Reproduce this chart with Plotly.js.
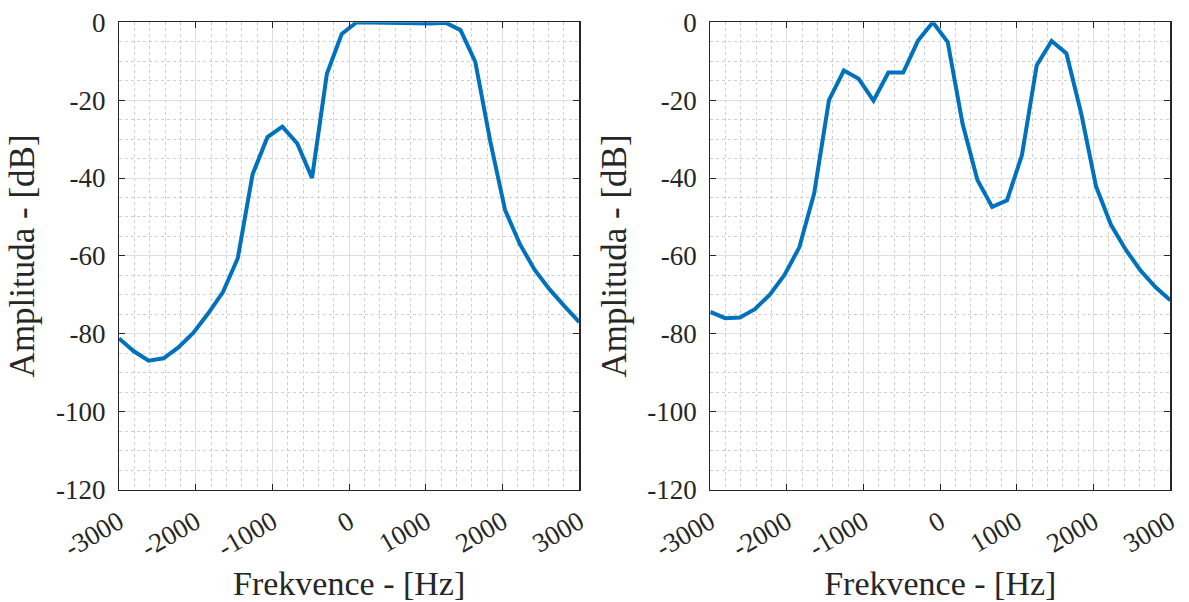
<!DOCTYPE html>
<html>
<head>
<meta charset="utf-8">
<script src="https://cdn.plot.ly/plotly-3.0.1.min.js"></script>
<style>
  html, body { margin: 0; padding: 0; background: #fff; }
  #chart { width: 1189px; height: 602px; }
</style>
</head>
<body>
<div id="chart"></div>
<script>
// Frequency bins [Hz]
const freq = [-3000, -2806, -2613, -2419, -2226, -2032, -1839, -1645, -1452, -1258,
              -1065, -871, -677, -484, -290, -97, 97, 290, 484, 677, 871, 1065,
              1258, 1452, 1645, 1839, 2032, 2226, 2419, 2613, 2806, 3000];

// Magnitude responses [dB]
const ampLeft = [-81.2, -84.5, -86.9, -86.3, -83.5, -79.8, -74.8, -69.3, -60.6, -39.0,
                 -29.5, -26.8, -31.1, -40.0, -13.2, -3.0, 0.0, -0.1, -0.1, -0.2, -0.2, -0.3,
                 -0.1, -2.0, -10.2, -30.5, -48.2, -57.0, -63.6, -68.6, -72.9, -77.0];
const ampRight = [-74.4, -76.0, -75.8, -73.7, -70.0, -64.9, -57.8, -43.9, -20.0, -12.4,
                  -14.5, -20.1, -12.9, -12.9, -4.7, 0.0, -5.1, -26.0, -40.5, -47.4, -45.7, -34.1,
                  -11.0, -4.8, -8.0, -23.5, -42.2, -52.0, -58.4, -63.8, -68.0, -71.4];

const xTicks = [-3000, -2000, -1000, 0, 1000, 2000, 3000];
const yTicks = [-120, -100, -80, -60, -40, -20, 0];

const xTitle = 'Frekvence - [Hz]';
const yTitle = 'Amplituda - [dB]';

const serif = '"Liberation Serif", "DejaVu Serif", serif';
const ink = '#262626';

function xAxis(domain, anchor) {
  return {
    domain: domain, anchor: anchor,
    range: [-3000, 3000], tickvals: xTicks, ticktext: xTicks.map(String),
    tickangle: -30, ticks: 'inside', ticklen: 6, tickcolor: ink, tickwidth: 1,
    mirror: 'allticks', showline: true, linecolor: ink, linewidth: 1.2,
    showgrid: true, gridcolor: '#dedede', gridwidth: 1,
    minor: { dtick: 200, showgrid: true, gridcolor: '#cfcfcf', griddash: 'dot', gridwidth: 1 },
    zeroline: false,
    tickfont: { family: serif, size: 27, color: ink },
    ticklabelstandoff: 5,
    title: { text: xTitle, font: { family: serif, size: 34, color: ink }, standoff: 12 },
    automargin: false
  };
}

function yAxis(domain, anchor) {
  return {
    domain: domain, anchor: anchor,
    range: [-120, 0], tickvals: yTicks, ticktext: yTicks.map(String),
    ticks: 'inside', ticklen: 6, tickcolor: ink, tickwidth: 1,
    mirror: 'allticks', showline: true, linecolor: ink, linewidth: 1.2,
    showgrid: true, gridcolor: '#dedede', gridwidth: 1,
    minor: { dtick: 5, showgrid: true, gridcolor: '#cfcfcf', griddash: 'dot', gridwidth: 1 },
    zeroline: false,
    tickfont: { family: serif, size: 27, color: ink },
    ticklabelstandoff: 7,
    title: { text: yTitle, font: { family: serif, size: 35, color: ink }, standoff: 10 },
    automargin: false
  };
}

const lineStyle = { color: '#0072BD', width: 4 };

const data = [
  { x: freq, y: ampLeft, type: 'scatter', mode: 'lines', line: lineStyle, xaxis: 'x', yaxis: 'y', hoverinfo: 'x+y' },
  { x: freq, y: ampRight, type: 'scatter', mode: 'lines', line: lineStyle, xaxis: 'x2', yaxis: 'y2', hoverinfo: 'x+y' }
];

const yDom = [1 - 489.5 / 602, 1 - 22.3 / 602];

const layout = {
  width: 1189, height: 602,
  margin: { l: 0, r: 0, t: 0, b: 0 },
  paper_bgcolor: '#ffffff', plot_bgcolor: '#ffffff',
  showlegend: false,
  xaxis: xAxis([119 / 1189, 579.3 / 1189], 'y'),
  yaxis: yAxis(yDom, 'x'),
  xaxis2: xAxis([710.3 / 1189, 1170.3 / 1189], 'y2'),
  yaxis2: yAxis(yDom, 'x2')
};

Plotly.newPlot('chart', data, layout, { displayModeBar: false, staticPlot: true });
</script>
</body>
</html>
